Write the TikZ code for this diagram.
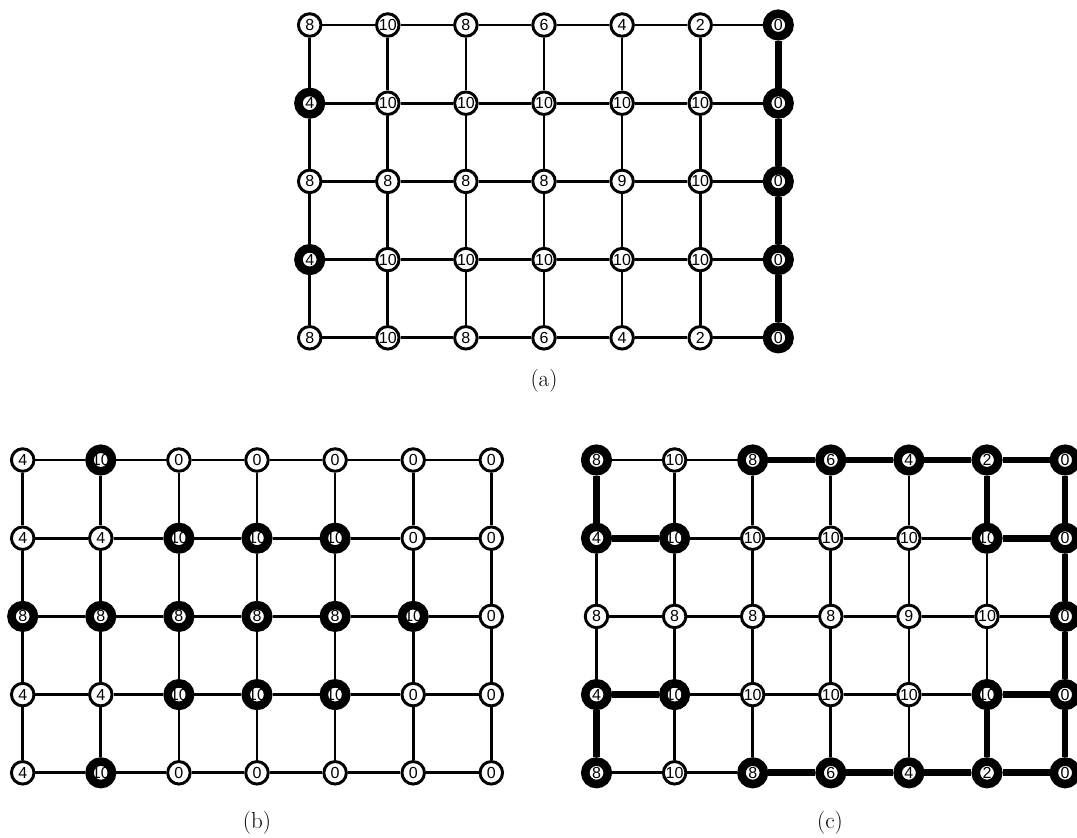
\documentclass[tikz,border=0pt]{standalone}
\usepackage{fontspec}
\newfontfamily\cellfont{Liberation Sans}
\tikzset{
  cell/.style={circle,draw,fill=white,line width=2.2pt,minimum size=16.9pt,inner sep=0pt,font=\cellfont\fontsize{12}{12}\selectfont},
  hot/.style={cell,line width=6.4pt},
  link/.style={line width=2pt},
  heavy/.style={line width=5pt},
  sublabel/.style={font=\LARGE}
}
\begin{document}
\begin{tikzpicture}[x=0.75pt,y=-0.75pt]
  \useasboundingbox (0,0) rectangle (1077,838);
  \begin{scope}[shift={(309.7,25)}]
    \foreach \row [count=\j] in {
      {8/cell,10/cell,8/cell,6/cell,4/cell,2/cell,0/hot},
      {4/hot,10/cell,10/cell,10/cell,10/cell,10/cell,0/hot},
      {8/cell,8/cell,8/cell,8/cell,9/cell,10/cell,0/hot},
      {4/hot,10/cell,10/cell,10/cell,10/cell,10/cell,0/hot},
      {8/cell,10/cell,8/cell,6/cell,4/cell,2/cell,0/hot}}
      \foreach \v/\s [count=\i] in \row
        \node[\s] (a-\i-\j) at ({78.1*(\i-1)},{78.2*(\j-1)}) {\v};
  \end{scope}
  \begin{scope}[shift={(22.7,460)}]
    \foreach \row [count=\j] in {
      {4/cell,10/hot,0/cell,0/cell,0/cell,0/cell,0/cell},
      {4/cell,4/cell,10/hot,10/hot,10/hot,0/cell,0/cell},
      {8/hot,8/hot,8/hot,8/hot,8/hot,10/hot,0/cell},
      {4/cell,4/cell,10/hot,10/hot,10/hot,0/cell,0/cell},
      {4/cell,10/hot,0/cell,0/cell,0/cell,0/cell,0/cell}}
      \foreach \v/\s [count=\i] in \row
        \node[\s] (b-\i-\j) at ({78.1*(\i-1)},{78.2*(\j-1)}) {\v};
  \end{scope}
  \begin{scope}[shift={(596.5,460)}]
    \foreach \row [count=\j] in {
      {8/hot,10/cell,8/hot,6/hot,4/hot,2/hot,0/hot},
      {4/hot,10/hot,10/cell,10/cell,10/cell,10/hot,0/hot},
      {8/cell,8/cell,8/cell,8/cell,9/cell,10/cell,0/hot},
      {4/hot,10/hot,10/cell,10/cell,10/cell,10/hot,0/hot},
      {8/hot,10/cell,8/hot,6/hot,4/hot,2/hot,0/hot}}
      \foreach \v/\s [count=\i] in \row
        \node[\s] (c-\i-\j) at ({78.1*(\i-1)},{78.2*(\j-1)}) {\v};
  \end{scope}
  \foreach \g in {a,b,c} {
    \foreach \j in {1,...,5}
      \foreach \i [count=\k from 2] in {1,...,6}
        \draw[link] (\g-\i-\j) -- (\g-\k-\j);
    \foreach \i in {1,...,7}
      \foreach \j [count=\k from 2] in {1,...,4}
        \draw[link] (\g-\i-\j) -- (\g-\i-\k);
  }
  \draw[heavy] (a-7-1) -- (a-7-2) -- (a-7-3) -- (a-7-4) -- (a-7-5);
  \draw[heavy] (c-1-1) -- (c-1-2) -- (c-2-2);
  \draw[heavy] (c-1-5) -- (c-1-4) -- (c-2-4);
  \draw[heavy] (c-3-1) -- (c-4-1) -- (c-5-1) -- (c-6-1) -- (c-7-1) -- (c-7-2) -- (c-7-3) -- (c-7-4) -- (c-7-5) -- (c-6-5) -- (c-5-5) -- (c-4-5) -- (c-3-5);
  \draw[heavy] (c-6-1) -- (c-6-2) -- (c-7-2);
  \draw[heavy] (c-6-5) -- (c-6-4) -- (c-7-4);
  \node[sublabel] (cap-a) at (544,381) {(a)};
  \node[sublabel] (cap-b) at (257,823) {(b)};
  \node[sublabel] (cap-c) at (830,823) {(c)};
\end{tikzpicture}
\end{document}
